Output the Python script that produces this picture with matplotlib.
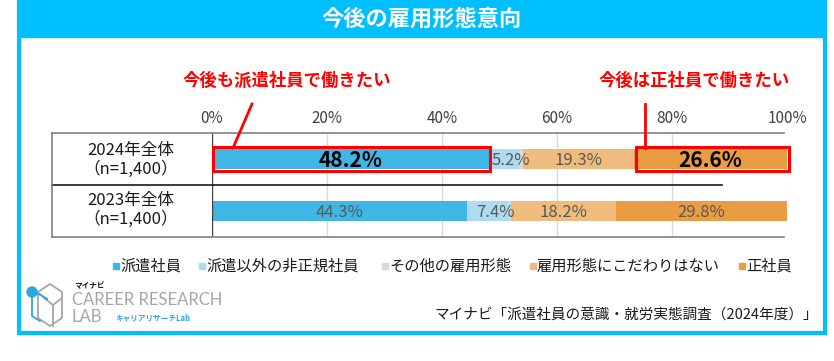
import matplotlib.pyplot as plt
from matplotlib.patches import Rectangle, Circle
import numpy as np

plt.rcParams['font.family'] = ['Noto Sans CJK JP', 'DejaVu Sans']

# データ
kategorier = ["派遣社員", "派遣以外の非正規社員", "その他の雇用形態", "雇用形態にこだわりはない", "正社員"]
rader = ["2024年全体\n（n=1,400）", "2023年全体\n（n=1,400）"]
verdier_2024 = [48.2, 5.2, 0.7, 19.3, 26.6]
verdier_2023 = [44.3, 7.4, 0.3, 18.2, 29.8]
farger = ["#3FB6E6", "#AEDBF0", "#D9D9D9", "#F0BC7E", "#EA9C43"]
ticks = [0, 20, 40, 60, 80, 100]

W, H = 834, 361
fig = plt.figure(figsize=(W / 100, H / 100), dpi=100)

# stolpediagram
ax = fig.add_axes([212 / W, 1 - 237 / H, 575 / W, 104 / H], zorder=1)
ax.patch.set_visible(False)
for i, verdier in enumerate([verdier_2024, verdier_2023]):
    venstre = 0
    for j, v in enumerate(verdier):
        ax.barh(i + 0.5, v, left=venstre, height=0.38, color=farger[j], zorder=2)
        if j != 2:
            fet = (i == 0 and j in (0, 4))
            forskyv = 1.2 if j == 1 else 0
            ax.text(venstre + v / 2 + forskyv, i + 0.5 + 0.02, f"{v}%", ha="center", va="center",
                    fontsize=15 if fet else 12, fontweight="bold" if fet else "normal",
                    color="#000000" if fet else "#595959", zorder=5)
        venstre += v

# røde rammer
ax.add_patch(Rectangle((0.2, 0.5 - 0.23), verdier_2024[0], 0.46, fill=False,
                       edgecolor="#FF0000", lw=2.2, zorder=4, clip_on=False))
start = sum(verdier_2024[:4])
ax.add_patch(Rectangle((start + 0.3, 0.5 - 0.23), verdier_2024[4], 0.46, fill=False,
                       edgecolor="#FF0000", lw=2.2, zorder=4, clip_on=False))

ax.set_xlim(0, 100)
ax.set_ylim(2, 0)
ax.set_xticks(ticks)
ax.set_xticklabels([f"{t}%" for t in ticks], fontsize=11, color="#404040")
ax.xaxis.tick_top()
ax.tick_params(axis="x", length=0, pad=4)
ax.set_yticks([])
for t in ticks[1:]:
    ax.axvline(t, color="#D9D9D9", lw=1, zorder=1)
ax.axvline(0, color="#404040", lw=1, zorder=3)
for s in ax.spines.values():
    s.set_visible(False)

# ramme, tittel og tekst
ov = fig.add_axes([0, 0, 1, 1], zorder=2)
ov.patch.set_visible(False)
ov.set_xlim(0, W)
ov.set_ylim(H, 0)
ov.axis("off")

ov.add_patch(Rectangle((19, 2), 806, 331, fill=False, edgecolor="#00BFFF", lw=3))
ov.add_patch(Rectangle((19, 2), 806, 35, color="#00BFFF"))
ov.text(422, 19, "今後の雇用形態意向", ha="center", va="center", fontsize=16,
        color="white", fontweight="bold")

# tabellinjer
ov.plot([52, 784], [133, 133], color="#808080", lw=1.2)
ov.plot([52, 722], [185, 185], color="#1A1A1A", lw=1.2)
ov.plot([52, 784], [237, 237], color="#808080", lw=1.2)
ov.plot([52, 52], [133, 237], color="#808080", lw=1.2)
for k, rad in enumerate(rader):
    ov.text(131, 160 + k * 50, rad, ha="center", va="center", fontsize=12,
            color="#1A1A1A", linespacing=1.1)

# annoteringer
ov.text(287, 81, "今後も派遣社員で働きたい", ha="center", va="center", fontsize=12.5,
        color="#FF0000", fontweight="bold")
ov.plot([252, 233], [104, 148], color="#FF0000", lw=2)
ov.text(694, 81, "今後は正社員で働きたい", ha="center", va="center", fontsize=12.5,
        color="#FF0000", fontweight="bold")
ov.plot([645, 645], [104, 148], color="#FF0000", lw=2)

# forklaring
legend_x = [116, 202, 385, 533, 742]
for x, navn, c in zip(legend_x, kategorier, farger):
    ov.add_patch(Rectangle((x - 3, 263), 6, 6, color=c))
    ov.text(x + 4, 266, navn, ha="left", va="center", fontsize=11, color="#1A1A1A")

# logo
grå = "#A6A6A6"
ov.plot([38, 50, 62, 62, 50, 38, 38], [292, 284, 292, 318, 326, 318, 292], color=grå, lw=1.3)
ov.plot([44, 53, 62], [298, 305, 298], color=grå, lw=1.3)
ov.plot([53, 53], [305, 326], color=grå, lw=1.3)
ov.plot([36, 47], [292, 299], color="#2FA6E0", lw=1.5)
ov.add_patch(Circle((32, 292), 5, color="#2FA6E0"))
ov.plot([32, 32, 40], [297, 316, 321], color="#2FA6E0", lw=1.3)
ov.text(74, 286, "マイナビ", fontsize=5.5, fontweight="bold", color="#1A1A1A", va="center")
ov.text(72, 300, "CAREER RESEARCH", fontsize=12, color=grå, va="center",
        family=["Lato", "DejaVu Sans"])
ov.text(72, 317, "LAB", fontsize=12, color=grå, va="center", family=["Lato", "DejaVu Sans"])
ov.text(115, 318, "キャリアリサーチLab", fontsize=5.5, fontweight="bold", color="#2FA6E0", va="center")

# kilde
ov.text(818, 315, "マイナビ「派遣社員の意識・就労実態調査（2024年度）」", ha="right", va="center",
        fontsize=10.5, color="#1A1A1A")

fig.savefig("out.png", dpi=100, facecolor="white")
